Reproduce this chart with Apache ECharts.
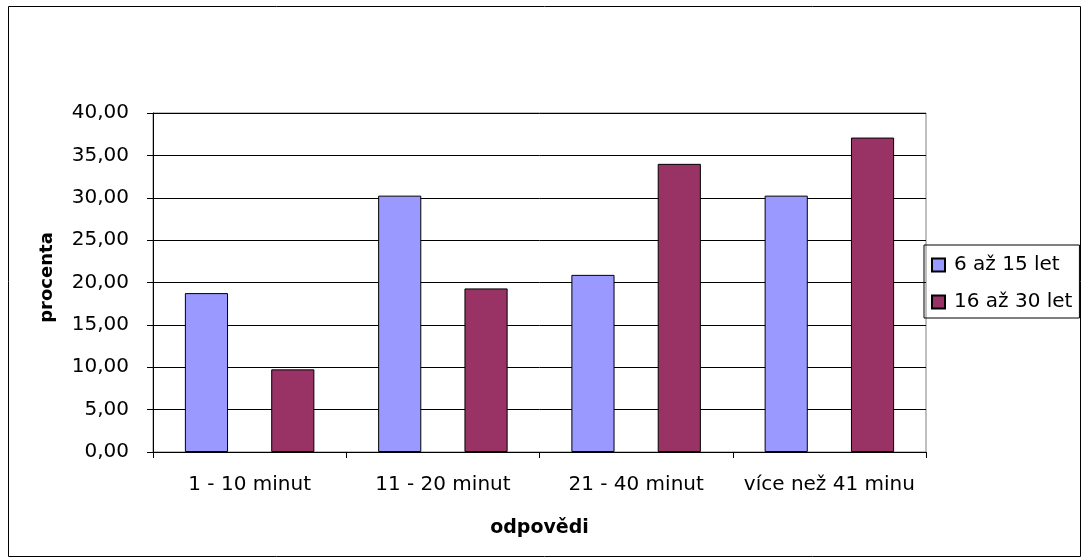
<!DOCTYPE html>
<html><head><meta charset="utf-8">
<script src="https://cdn.jsdelivr.net/npm/echarts@6/dist/echarts.min.js"></script>
<style>html,body{margin:0;padding:0;background:#fff}#c{width:1082px;height:559px}</style>
</head><body><div id="c"></div>
<script>
const categories = ['1 - 10 minut', '11 - 20 minut', '21 - 40 minut', 'více než 41 minu'];
const series1Name = '6 až 15 let';
const series1 = [18.75, 30.25, 20.90, 30.25];
const series2Name = '16 až 30 let';
const series2 = [9.75, 19.30, 34.00, 37.10];
const yTicks = {min: 0, max: 40, interval: 5};

const chart = echarts.init(document.getElementById('c'), null, {renderer: 'canvas'});
const font = '"DejaVu Sans", sans-serif';
chart.setOption({
  animation: false,
  backgroundColor: '#fff',
  graphic: [{type: 'rect', shape: {x: 8.5, y: 6.5, width: 1072, height: 550}, style: {fill: 'none', stroke: '#000', lineWidth: 1}, z: -1}],
  grid: {left: 153, top: 113, width: 773, height: 339, show: true, borderColor: '#808080', borderWidth: 1, backgroundColor: 'transparent'},
  legend: {
    orient: 'vertical', left: 924, top: 245,
    borderColor: '#000', borderWidth: 1, padding: [10, 7, 6, 7], itemGap: 17,
    itemWidth: 13, itemHeight: 13, icon: 'rect',
    textStyle: {fontFamily: font, fontSize: 20, color: '#000', padding: [0, 0, 0, 4]},
    data: [series1Name, series2Name]
  },
  xAxis: {
    type: 'category', data: categories,
    name: 'odpovědi', nameLocation: 'middle', nameGap: 67,
    nameTextStyle: {fontFamily: font, fontSize: 19, fontWeight: 'bold', color: '#000'},
    axisLine: {lineStyle: {color: '#000'}},
    axisTick: {show: true, length: 6, lineStyle: {color: '#000'}},
    axisLabel: {fontFamily: font, fontSize: 20, color: '#000', margin: 23, interval: 0}
  },
  yAxis: {
    type: 'value', min: yTicks.min, max: yTicks.max, interval: yTicks.interval,
    name: 'procenta', nameLocation: 'middle', nameGap: 97, nameRotate: 90,
    nameTextStyle: {fontFamily: font, fontSize: 18, fontWeight: 'bold', color: '#000', padding: [0, 0, 0, 10]},
    axisLine: {show: true, lineStyle: {color: '#000'}},
    axisTick: {show: true, inside: false, length: 6, lineStyle: {color: '#000'}},
    axisLabel: {fontFamily: font, fontSize: 20, color: '#000', margin: 24,
      formatter: v => v.toFixed(2).replace('.', ',')},
    splitLine: {lineStyle: {color: '#000', width: 1}}
  },
  series: [
    {name: series1Name, type: 'bar', data: series1, barGap: '100%', barCategoryGap: '33%',
     itemStyle: {color: '#9999FF', borderColor: '#000', borderWidth: 1}},
    {name: series2Name, type: 'bar', data: series2,
     itemStyle: {color: '#993366', borderColor: '#000', borderWidth: 1}}
  ]
});
</script></body></html>
